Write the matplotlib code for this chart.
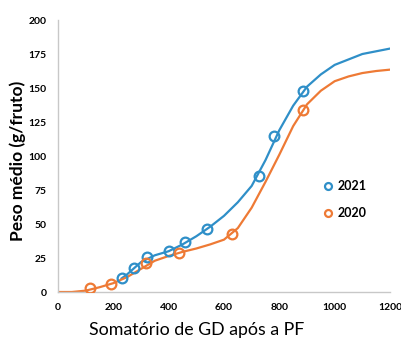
import matplotlib
matplotlib.use("Agg")
import matplotlib.pyplot as plt
from matplotlib.lines import Line2D

# Observed points
x2021 = [232, 273, 321, 400, 460, 538, 726, 782, 884]
y2021 = [10, 18, 26, 30, 37, 46, 85, 115, 148]
x2020 = [116, 192, 318, 437, 630, 886]
y2020 = [3, 6, 21, 29, 43, 134]

# Fitted curves
cx2021 = [230, 250, 300, 350, 400, 450, 500, 550, 600, 650, 700, 750, 800, 850,
          900, 950, 1000, 1050, 1100, 1150, 1200]
cy2021 = [10, 13, 22, 27, 30, 35, 41, 48, 56, 66, 78, 97, 119, 137,
          151, 160, 167, 171, 175, 177, 179]
cx2020 = [0, 50, 100, 150, 200, 250, 300, 350, 400, 450, 500, 550, 600, 650, 700,
          750, 800, 850, 900, 950, 1000, 1050, 1100, 1150, 1200]
cy2020 = [0, 0, 1, 3.5, 6.5, 11, 17, 23, 26.5, 29.5, 32, 35, 38.5, 47, 62,
          81, 101, 122, 138, 148, 155, 158.5, 161, 162.5, 163.5]

xticks = [0, 200, 400, 600, 800, 1000, 1200]
yticks = [0, 25, 50, 75, 100, 125, 150, 175, 200]

blue = "#2F8FC8"
orange = "#EE7A35"

plt.rcParams['font.family'] = ['Lato', 'DejaVu Sans']

fig = plt.figure(figsize=(4.01, 3.45), dpi=100)
ax = fig.add_axes([0.1446, 0.1536, 0.8280, 0.7884])

ax.plot(cx2021, cy2021, color=blue, lw=1.6, zorder=2, solid_joinstyle='round')
ax.plot(cx2020, cy2020, color=orange, lw=1.6, zorder=2, solid_joinstyle='round')
ax.plot(x2021, y2021, 'o', mfc='none', mec=blue, ms=7, mew=1.6, zorder=3)
ax.plot(x2020, y2020, 'o', mfc='none', mec=orange, ms=7, mew=1.6, zorder=3)

ax.set_xlim(0, 1200)
ax.set_ylim(0, 200)
ax.set_xticks(xticks)
ax.set_yticks(yticks)
ax.tick_params(length=0, labelsize=7.5, pad=8)
for lab in ax.get_xticklabels() + ax.get_yticklabels():
    lab.set_fontweight('bold')
for s in ['top', 'right']:
    ax.spines[s].set_visible(False)
for s in ['left', 'bottom']:
    ax.spines[s].set_color('#C8C8C8')
    ax.spines[s].set_linewidth(1.0)

fig.text(0.491, 0.043, 'Somatório de GD após a PF', fontsize=12.8,
         ha='center', va='center')
fig.text(0.045, 0.533, 'Peso médio (g/fruto)', fontsize=12.5, fontweight='bold',
         rotation=90, ha='center', va='center')

handles = [Line2D([], [], ls='none', marker='o', mfc='none', mec=blue, ms=5, mew=1.6),
           Line2D([], [], ls='none', marker='o', mfc='none', mec=orange, ms=5, mew=1.6)]
ax.legend(handles, ['2021', '2020'], loc='upper left', bbox_to_anchor=(0.762, 0.452),
          frameon=False, handlelength=1.0, handletextpad=0.2, labelspacing=1.2,
          prop={'weight': 'bold', 'size': 9})

fig.savefig('out.png', dpi=100)
